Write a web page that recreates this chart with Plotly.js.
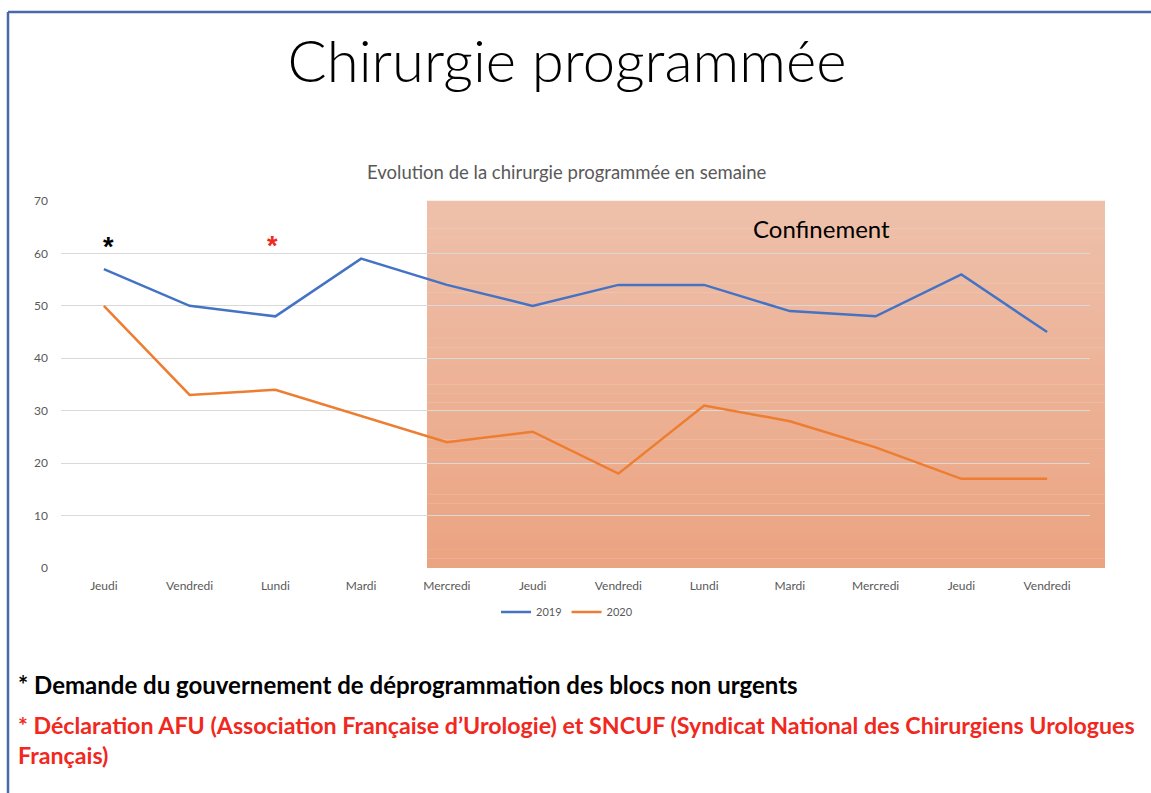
<!DOCTYPE html>
<html>
<head>
<meta charset="utf-8">
<script src="https://cdn.plot.ly/plotly-3.0.1.min.js"></script>
<style>
html,body{margin:0;padding:0;background:#fff;}
#chart{width:1151px;height:793px;}
</style>
</head>
<body>
<div id="chart"></div>
<script>
// ---- data ----
const days = ["Jeudi","Vendredi","Lundi","Mardi","Mercredi","Jeudi","Vendredi","Lundi","Mardi","Mercredi","Jeudi","Vendredi"];
const values2019 = [57, 50, 48, 59, 54, 50, 54, 54, 49, 48, 56, 45];
const values2020 = [50, 33, 34, 29, 24, 26, 18, 31, 28, 23, 17, 17];
const seriesNames = ["2019", "2020"];
const yTicks = [0, 10, 20, 30, 40, 50, 60, 70];

// ---- layout constants ----
const W = 1151, H = 793;
const mL = 61, mR = 61, mT = 201, mB = 225;
const plotW = W - mL - mR, plotH = H - mT - mB;
const px2paperX = p => (p - mL) / plotW;
const px2paperY = p => (H - mB - p) / plotH;

const xIdx = days.map((d, i) => i);
const font = "Lato, 'Open Sans', sans-serif";

const traces = [
  {x: xIdx, y: values2019, name: seriesNames[0], type: "scatter", mode: "lines",
   line: {color: "#4472C4", width: 2.5}},
  {x: xIdx, y: values2020, name: seriesNames[1], type: "scatter", mode: "lines",
   line: {color: "#ED7D31", width: 2.5}}
];

// gradient confinement zone as stacked bands
const shapes = [];
const bands = 40;
const c0 = [238, 192, 170], c1 = [235, 164, 130];
const rx0 = px2paperX(427), rx1 = px2paperX(1105);
for (let i = 0; i < bands; i++) {
  const t = i / (bands - 1);
  const c = c0.map((v, k) => Math.round(v + (c1[k] - v) * t));
  shapes.push({type: "rect", xref: "paper", yref: "paper", layer: "below",
    x0: rx0, x1: rx1, y0: 1 - (i + 1) / bands, y1: 1 - i / bands + 0.001,
    fillcolor: `rgb(${c.join(",")})`, line: {width: 0}});
}
// slide border
shapes.push({type: "line", xref: "paper", yref: "paper", x0: px2paperX(8), x1: px2paperX(1160),
  y0: px2paperY(12), y1: px2paperY(12), line: {color: "#4A69A8", width: 2.5}});
shapes.push({type: "line", xref: "paper", yref: "paper", x0: px2paperX(8), x1: px2paperX(8),
  y0: px2paperY(12), y1: px2paperY(800), line: {color: "#4A69A8", width: 2.5}});

const annotations = [
  {xref: "paper", yref: "paper", x: px2paperX(567), y: px2paperY(172), xanchor: "center", yanchor: "middle",
   text: "Evolution de la chirurgie programmée en semaine", showarrow: false,
   font: {family: font, size: 18.5, color: "#595959"}},
  {xref: "x", yref: "y", x: 0.05, y: 61.2, text: "*", showarrow: false, xanchor: "center", yanchor: "middle",
   font: {family: "Liberation Sans, sans-serif", size: 27, color: "#000000", weight: "bold"}},
  {xref: "x", yref: "y", x: 1.97, y: 61.4, text: "*", showarrow: false, xanchor: "center", yanchor: "middle",
   font: {family: "Liberation Sans, sans-serif", size: 27, color: "#F0281E", weight: "bold"}},
  {xref: "paper", yref: "paper", x: px2paperX(821), y: px2paperY(228), text: "Confinement", showarrow: false,
   xanchor: "center", yanchor: "middle", font: {family: font, size: 24, color: "#000000"}},
  {xref: "paper", yref: "paper", x: px2paperX(16), y: px2paperY(684), xanchor: "left", yanchor: "middle",
   text: "* Demande du gouvernement de déprogrammation des blocs non urgents", showarrow: false, align: "left",
   font: {family: font, size: 24, color: "#000000", weight: "bold"}},
  {xref: "paper", yref: "paper", x: px2paperX(16), y: px2paperY(740), xanchor: "left", yanchor: "middle",
   text: "* Déclaration AFU (Association Française d’Urologie) et SNCUF (Syndicat National des Chirurgiens Urologues<br>Français)",
   showarrow: false, align: "left",
   font: {family: font, size: 23.2, color: "#F0281E", weight: "bold"}}
];

const layout = {
  width: W, height: H,
  margin: {l: mL, r: mR, t: mT, b: mB, pad: 0},
  paper_bgcolor: "rgba(0,0,0,0)", plot_bgcolor: "rgba(0,0,0,0)",
  title: {text: "Chirurgie programmée", x: px2paperX(567), xref: "paper", xanchor: "center",
    y: 1 - 62 / H, yref: "container", yanchor: "middle",
    font: {family: font, size: 58, color: "#000000", weight: 300}},
  showlegend: true,
  legend: {orientation: "h", x: px2paperX(567), xanchor: "center", y: px2paperY(612), yanchor: "middle",
    font: {family: font, size: 11, color: "#595959"}, itemwidth: 30, bgcolor: "rgba(0,0,0,0)"},
  xaxis: {type: "linear", range: [-0.5, days.length - 0.5], tickmode: "array", tickvals: xIdx, ticktext: days,
    showgrid: false, zeroline: false, showline: false, ticks: "", ticklabelstandoff: 9,
    tickfont: {family: font, size: 12, color: "#595959"}, fixedrange: true},
  yaxis: {range: [0, 70], tickmode: "array", tickvals: yTicks, showgrid: true, gridcolor: "#D9D9D9", gridwidth: 1,
    zeroline: false, showline: false, ticks: "", ticklabelstandoff: 12,
    tickfont: {family: font, size: 12, color: "#595959"}, fixedrange: true},
  shapes: shapes,
  annotations: annotations
};

Plotly.newPlot("chart", traces, layout, {displayModeBar: false, staticPlot: true});
</script>
</body>
</html>
